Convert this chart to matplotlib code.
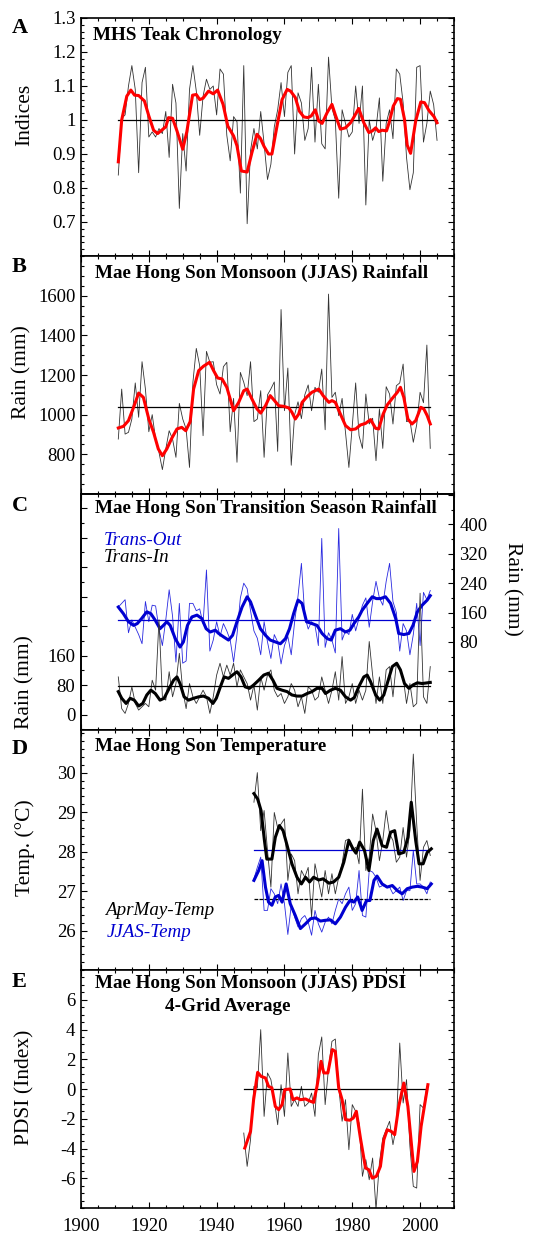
import matplotlib
matplotlib.use("Agg")
import matplotlib.pyplot as plt
import numpy as np
from matplotlib.ticker import MultipleLocator

plt.rcParams["font.family"] = ["Liberation Serif", "DejaVu Serif"]
plt.rcParams["axes.unicode_minus"] = False

# ---- A: MHS teak chronology (1911-2005) ----
a_years = np.arange(1911, 2006)
a_raw = [0.838, 1.005, 1.015, 1.10, 1.16, 1.09, 0.845, 1.11, 1.155, 0.95,
         0.965, 0.95, 0.975, 0.96, 1.025, 0.89, 1.105, 1.05, 0.74, 0.96,
         0.85, 1.09, 1.16, 1.085, 0.955, 1.07, 1.12, 1.09, 1.10, 1.015,
         1.15, 1.135, 0.955, 0.88, 1.01, 0.995, 0.785, 1.16, 0.695, 0.91,
         0.975, 0.915, 1.025, 0.93, 0.825, 0.87, 0.98, 1.03, 1.11, 1.01,
         1.14, 1.16, 0.90, 1.08, 1.05, 0.94, 0.975, 1.155, 0.935, 1.105,
         0.93, 0.915, 1.185, 1.035, 1.0, 0.77, 1.03, 0.99, 0.95, 0.965,
         1.10, 0.99, 1.10, 0.75, 1.0, 0.94, 0.975, 1.065, 0.82, 0.99,
         1.03, 0.945, 1.15, 1.135, 1.05, 0.89, 0.795, 0.845, 1.155, 1.16,
         0.935, 0.99, 1.085, 1.045, 0.94]
a_smooth_x = [1911, 1912, 1913.5, 1914.7, 1915.8, 1917, 1918.7, 1920, 1921.4, 1922.6,
              1923.8, 1925, 1925.8, 1927, 1928.3, 1930, 1931.2, 1932.9, 1934, 1935,
              1936, 1937.6, 1939, 1940.3, 1941.9, 1943.3, 1945, 1946, 1947.3, 1949,
              1950.4, 1951.9, 1952.9, 1954, 1955.3, 1956.3, 1957.8, 1959.3, 1960.8, 1961.8,
              1963.2, 1964.4, 1965.7, 1966.9, 1967.9, 1969.1, 1970.1, 1971.1, 1972.6, 1974,
              1975, 1976.5, 1978, 1979.5, 1980.4, 1981.9, 1983.4, 1984.9, 1985.9, 1986.9,
              1987.8, 1988.8, 1990.1, 1990.8, 1992.1, 1993.3, 1994.2, 1995.4, 1996.2, 1997.2,
              1998.7, 2000.2, 2001.3, 2002.6, 2004.1, 2005]
a_smooth_y = [0.877, 1.0, 1.07, 1.088, 1.073, 1.072, 1.056, 1.012, 0.97, 0.96,
              0.97, 0.98, 1.007, 1.005, 0.968, 0.914, 0.965, 1.073, 1.075, 1.06,
              1.064, 1.085, 1.077, 1.088, 1.046, 0.982, 0.953, 0.924, 0.85, 0.847,
              0.904, 0.958, 0.946, 0.922, 0.9, 0.9, 0.982, 1.06, 1.09, 1.085,
              1.066, 1.026, 1.009, 1.007, 1.012, 1.03, 0.997, 0.99, 1.022, 1.046,
              1.015, 0.973, 0.977, 0.992, 1.007, 1.034, 0.992, 0.963, 0.968, 0.977,
              0.966, 0.97, 0.968, 0.99, 1.041, 1.063, 1.061, 1.002, 0.926, 0.902,
              0.997, 1.053, 1.051, 1.028, 1.01, 0.992]
a_mean = 1.0

# ---- B: JJAS rainfall (1911-2003) ----
b_years = np.arange(1911, 2004)
b_raw = [877, 1129, 902, 911, 978, 1160, 987, 1267, 1129, 914,
         1000, 877, 810, 723, 827, 919, 877, 785, 1057, 978,
         928, 734, 1163, 1334, 1247, 894, 1319, 1264, 1267, 1151,
         1104, 1242, 1264, 914, 1082, 760, 1213, 1163, 1096, 1267,
         965, 978, 1121, 785, 1100, 1130, 1165, 815, 1530, 1020,
         1235, 745, 1000, 1065, 980, 1100, 1150, 1020, 1138, 1113,
         1230, 924, 1608, 1087, 1113, 995, 1082, 911, 734, 944,
         1160, 894, 830, 1104, 953, 982, 768, 1029, 830, 1141,
         1104, 953, 1146, 1160, 1255, 965, 970, 861, 950, 1113,
         1060, 1351, 830]
b_smooth_x = [1911, 1912.5, 1914, 1915.5, 1917, 1918.4, 1920, 1921.4, 1922.8, 1924,
              1925.3, 1926.8, 1928.3, 1929.7, 1930.9, 1932.2, 1933.2, 1934.7, 1936.1, 1937.9,
              1939.1, 1940.3, 1941.6, 1943, 1944, 1945, 1946.5, 1948, 1949, 1950.4,
              1951.9, 1953, 1954.4, 1955.8, 1957.3, 1958.3, 1959.8, 1961.3, 1962.2, 1963.2,
              1964.2, 1965.2, 1966.7, 1968.1, 1970.1, 1971.4, 1973.1, 1974, 1975, 1976.5,
              1978, 1979.5, 1981, 1982.4, 1983.9, 1985.4, 1986.9, 1987.8, 1989.1, 1990.3,
              1991.8, 1993.3, 1994.2, 1995.2, 1996.4, 1997.6, 1998.7, 2000.2, 2001.1, 2002.1,
              2003]
b_smooth_y = [933, 941, 970, 1037, 1109, 1087, 978, 911, 827, 793,
              827, 882, 928, 936, 919, 965, 1129, 1222, 1244, 1264,
              1222, 1185, 1180, 1138, 1079, 1020, 1062, 1121, 1129, 1079,
              1029, 1008, 1045, 1096, 1066, 1045, 1042, 1034, 1012, 978,
              1003, 1062, 1091, 1113, 1129, 1096, 1062, 1071, 1062, 1003,
              945, 924, 928, 948, 956, 975, 931, 928, 1003, 1049,
              1082, 1113, 1138, 1087, 978, 953, 970, 1037, 1029, 995,
              953]
b_mean = 1037

# ---- C: transition season rainfall (1911-2003) ----
c_years = np.arange(1911, 2004)
c_in_raw = [102, 16, 3, 30, 75, 30, 12, 21, 30, 21,
            93, 66, 257, 48, 39, 116, 48, 84, 166, 66,
            16, 84, 48, 30, 48, 66, 48, 3, 48, 107,
            139, 102, 134, 107, 139, 75, 121, 102, 84, 39,
            80, 12, 102, 66, 107, 121, 66, 48, 57, 30,
            48, 84, 66, 21, 48, 3, 75, 66, 39, 48,
            102, 66, 30, 66, 116, 39, 157, 30, 48, 84,
            30, 66, 39, 66, 198, 107, 30, 102, 30, 121,
            130, 48, 139, 121, 102, 30, 84, 21, 30, 329,
            48, 30, 130]
c_in_smooth_x = [1911, 1912, 1913.3, 1914.5, 1915.7, 1917, 1918.2, 1919.4, 1920.6, 1921.9,
                 1923.3, 1924.5, 1926, 1927.3, 1928.3, 1929.2, 1930.4, 1931.7, 1933.2, 1934.7,
                 1936.1, 1937.6, 1938.9, 1939.9, 1941.1, 1942.2, 1943.5, 1944.7, 1946, 1947.2,
                 1948.4, 1949.7, 1950.9, 1952.4, 1953.9, 1955.3, 1956.6, 1957.8, 1959.3, 1960.8,
                 1962.2, 1963.7, 1965.2, 1966.7, 1968.1, 1969.6, 1971.1, 1972.1, 1973.6, 1975,
                 1976.5, 1978, 1979.5, 1980.6, 1981.9, 1983.4, 1984.4, 1985.4, 1986.9, 1988.1,
                 1989.3, 1990.6, 1991.8, 1993.1, 1994.2, 1995.4, 1996.7, 1997.9, 1999.2, 2000.6,
                 2003]
c_in_smooth_y = [62, 44, 30, 44, 39, 23, 30, 53, 66, 57,
                 39, 44, 71, 93, 102, 84, 48, 39, 44, 48,
                 50, 44, 30, 44, 75, 102, 98, 107, 116, 102,
                 75, 71, 80, 93, 107, 112, 93, 71, 66, 62,
                 53, 50, 50, 57, 62, 71, 71, 57, 66, 71,
                 66, 48, 39, 46, 75, 102, 107, 89, 53, 39,
                 53, 93, 130, 139, 121, 84, 71, 80, 86, 84,
                 87]
c_in_mean = 77

c_out_raw = [175, 185, 195, 105, 140, 120, 100, 75, 190, 135,
             180, 178, 115, 70, 140, 222, 150, 25, 185, 22,
             28, 185, 185, 165, 170, 130, 276, 55, 85, 135,
             95, 130, 110, 85, 25, 100, 200, 240, 225, 165,
             110, 90, 45, 135, 80, 35, 100, 80, 20, 70,
             95, 45, 135, 205, 294, 150, 115, 135, 125, 70,
             362, 65, 105, 85, 50, 389, 85, 110, 100, 155,
             110, 145, 180, 200, 120, 190, 245, 200, 180, 245,
             294, 190, 160, 55, 130, 110, 45, 100, 185, 70,
             215, 195, 220]
c_out_smooth_x = [1911, 1912.5, 1914, 1915.5, 1916.6, 1917.9, 1919.4, 1920.6, 1921.9, 1923.3,
                  1924.3, 1925.3, 1926.3, 1927.8, 1929.2, 1930.2, 1931.4, 1932.7, 1934.2, 1935.6,
                  1936.9, 1938.1, 1939.6, 1940.6, 1942, 1943.5, 1944.7, 1946, 1947.5, 1949,
                  1950, 1951.4, 1952.9, 1954.4, 1955.8, 1957.3, 1958.8, 1960.3, 1961.5, 1962.7,
                  1964, 1965.2, 1966.5, 1968.1, 1969.6, 1971.1, 1972.6, 1973.8, 1975, 1976.5,
                  1978, 1979.3, 1980.5, 1981.9, 1982.9, 1984.4, 1985.9, 1987.1, 1988.3, 1989.8,
                  1991.3, 1992.8, 1993.7, 1995.2, 1996.7, 1997.9, 1999.2, 2000.6, 2002.1, 2003]
c_out_smooth_y = [175, 157, 135, 125, 130, 144, 162, 157, 139, 116,
                  125, 135, 125, 89, 66, 80, 125, 148, 153, 144,
                  116, 107, 112, 103, 94, 85, 98, 135, 175, 203,
                  189, 153, 116, 98, 85, 80, 75, 89, 116, 157,
                  194, 185, 135, 130, 125, 103, 89, 85, 112, 116,
                  107, 112, 130, 148, 166, 185, 203, 198, 198, 203,
                  185, 144, 103, 100, 103, 125, 162, 180, 194, 206]
c_out_mean = 139

# ---- D: temperature (1951-2003) ----
d_years = np.arange(1951, 2004)
d_am_raw = [29.25, 30.0, 28.53, 29.04, 28.03, 27.1, 28.99, 28.6, 28.7, 28.83,
            27.27, 27.94, 27.77, 26.93, 27.52, 27.35, 27.6, 26.34, 27.69, 27.27,
            26.85, 27.52, 26.93, 27.44, 26.93, 27.35, 27.69, 28.28, 28.32, 28.03,
            28.11, 27.69, 29.58, 27.52, 27.86, 28.95, 28.53, 27.77, 28.28, 29.04,
            28.45, 28.28, 27.73, 27.86, 28.61, 27.86, 28.53, 30.47, 28.7, 27.27,
            28.11, 28.28, 27.9]
d_am_smooth_x = [1951, 1952.1, 1953.1, 1954.1, 1954.8, 1956.3, 1957.3, 1958.5, 1959.6, 1960.8,
                 1962.2, 1963.7, 1965, 1966.2, 1967.4, 1968.6, 1970.1, 1971.4, 1973.1, 1974.5,
                 1976, 1977.5, 1979, 1980.2, 1981.1, 1982.2, 1983.6, 1984.9, 1986.2, 1987.3,
                 1988.8, 1990.1, 1991.3, 1992.5, 1993.7, 1995.2, 1996.4, 1997.4, 1998.7, 1999.7,
                 2000.9, 2002.1, 2003.3]
d_am_smooth_y = [29.47, 29.33, 29.04, 28.28, 27.81, 27.81, 28.36, 28.66, 28.53, 28.15,
                 27.69, 27.35, 27.18, 27.35, 27.23, 27.35, 27.28, 27.31, 27.2, 27.23,
                 27.35, 27.73, 28.28, 28.07, 27.96, 28.24, 28.03, 27.52, 28.28, 28.57,
                 28.15, 28.11, 28.49, 28.53, 27.94, 27.98, 28.36, 29.25, 28.28, 27.69,
                 27.69, 27.98, 28.07]
d_jjas_raw = [27.31, 27.6, 27.86, 26.51, 26.51, 27.06, 26.93, 26.68, 27.18, 26.68,
              25.9, 26.64, 26.34, 26.09, 26.3, 26.38, 26.21, 25.88, 26.51, 26.17,
              25.96, 26.21, 26.34, 26.17, 26.51, 26.8, 26.68, 26.93, 27.1, 26.51,
              26.68, 27.52, 26.38, 26.34, 27.52, 27.48, 27.35, 27.1, 27.14, 27.1,
              27.1, 26.93, 27.01, 27.1, 26.76, 27.01, 27.01, 28.03, 27.18, 27.18,
              27.1, 26.93, 27.23]
d_jjas_smooth_x = [1951, 1952.4, 1953.4, 1954.4, 1955.3, 1956.3, 1957.3, 1958.3, 1959.3, 1960.5,
                   1961.7, 1963.2, 1964.7, 1966.2, 1967.7, 1969.1, 1970.6, 1972.1, 1973.6, 1975,
                   1976.5, 1978, 1979.3, 1980.5, 1981.6, 1982.9, 1984.2, 1985.2, 1986.4, 1987.3,
                   1988.8, 1990.3, 1991.8, 1993.3, 1994.7, 1996.2, 1997.7, 1999.2, 2000.6, 2002.1,
                   2003.3]
d_jjas_smooth_y = [27.27, 27.52, 27.77, 27.1, 26.72, 26.64, 26.85, 26.89, 26.72, 27.18,
                   26.68, 26.38, 26.05, 26.17, 26.3, 26.32, 26.24, 26.26, 26.27, 26.17,
                   26.34, 26.59, 26.76, 26.72, 26.85, 26.51, 26.76, 26.76, 27.27, 27.38,
                   27.18, 27.1, 27.14, 27.01, 26.93, 27.06, 27.1, 27.12, 27.1, 27.06,
                   27.18]
d_blue_mean = 28.03
d_black_mean = 26.8

# ---- E: JJAS PDSI (1948-2002) ----
e_years = np.arange(1948, 2003)
e_raw = [-2.96, -5.2, -3.4, 0.18, 0.07, 3.99, -1.84, 1.08, 0.63, -0.72,
         -2.4, 0.29, -1.84, 2.42, -1.17, -0.72, -1.17, 0.18, -1.17, -0.94,
         -0.27, -1.84, 2.31, 3.5, -1.05, 1.41, 3.2, 3.36, 0.18, -2.17,
         -0.72, -4.08, -1.05, -1.5, -2.29, -5.87, -4.75, -6.1, -4.64, -8.1,
         -4.98, -3.3, -2.74, -2.17, -3.74, -2.51, 3.09, -0.94, 0.63, -3.86,
         -6.55, -6.66, -1.05, -1.28, 0.18]
e_smooth_x = [1948.3, 1950, 1950.9, 1952.1, 1953.1, 1954.4, 1955.3, 1956.3, 1957.3, 1958.3,
              1959.3, 1960.1, 1961.7, 1962.5, 1963.7, 1964.7, 1966.2, 1967.7, 1968.6, 1969.6,
              1970.8, 1971.6, 1972.8, 1974.1, 1975, 1976, 1977, 1978, 1979.3, 1980.3,
              1981.2, 1982.4, 1983.9, 1984.9, 1985.9, 1987.1, 1988.3, 1989.3, 1990.3, 1991.5,
              1992.5, 1993.7, 1995.2, 1996.4, 1998.2, 1999.2, 2000.3, 2002.3]
e_smooth_y = [-3.97, -2.85, -0.72, 1.12, 0.85, 0.74, 0.18, 0.07, -1.17, -1.39,
              -1.05, -0.04, 0.0, -0.72, -0.6, -0.72, -0.67, -0.83, -0.9, 0.18,
              1.86, 1.08, 1.08, 2.65, 2.53, 0.07, -0.72, -2.06, -2.1, -1.95,
              -1.5, -3.3, -5.31, -5.43, -5.99, -5.87, -5.2, -3.41, -2.74, -2.85,
              -3.07, -1.17, 0.4, -1.17, -5.54, -4.87, -2.51, 0.29]
e_mean = 0.0

W, H = 533, 1236
LEFT, RIGHT = 81, 454
RED = "#ff0000"
BLUE = "#0000d0"
fig = plt.figure(figsize=(W / 100, H / 100), dpi=100)


def fx(x):
    return x / W


def fy(y):
    return 1 - y / H


def make_axes(top, bottom, right_ticks=True):
    ax = fig.add_axes([fx(LEFT), fy(bottom), (RIGHT - LEFT) / W, (bottom - top) / H])
    ax.set_xlim(1900, 2010)
    ax.xaxis.set_major_locator(MultipleLocator(20))
    ax.xaxis.set_minor_locator(MultipleLocator(5))
    ax.tick_params(which="both", direction="in", top=True, right=right_ticks,
                   width=0.8, labelsize=13.5, pad=4)
    ax.tick_params(which="major", length=4.5)
    ax.tick_params(which="minor", length=2.2)
    ax.tick_params(axis="x", labelbottom=False)
    for s in ax.spines.values():
        s.set_linewidth(1.2)
    return ax


def label_text(x, y, s, **kw):
    fig.text(fx(x), fy(y), s, **kw)


def set_ticks(ax, ticks, labels, minor):
    ax.set_yticks(ticks)
    ax.set_yticklabels(labels)
    ax.yaxis.set_minor_locator(MultipleLocator(minor))


# panel A
ax = make_axes(18, 256)
ax.set_ylim(0.6, 1.3)
set_ticks(ax, [0.7, 0.8, 0.9, 1.0, 1.1, 1.2, 1.3],
          ["0.7", "0.8", "0.9", "1", "1.1", "1.2", "1.3"], 0.02)
ax.plot(a_years, a_raw, color="#333333", lw=0.6)
ax.plot([a_years[0], a_years[-1]], [a_mean, a_mean], color="black", lw=0.9)
ax.plot(a_smooth_x, a_smooth_y, color=RED, lw=2.2)
label_text(93, 27, "MHS Teak Chronology", fontsize=13.8, fontweight="bold", va="top")
label_text(12, 18, "A", fontsize=16, fontweight="bold", va="top")
label_text(25, 115, "Indices", fontsize=15.5, rotation=90, ha="center", va="center")

# panel B
ax = make_axes(256, 494)
ax.set_ylim(600, 1800)
set_ticks(ax, [800, 1000, 1200, 1400, 1600],
          ["800", "1000", "1200", "1400", "1600"], 50)
ax.plot(b_years, b_raw, color="#333333", lw=0.6)
ax.plot([b_years[0], b_years[-1]], [b_mean, b_mean], color="black", lw=0.9)
ax.plot(b_smooth_x, b_smooth_y, color=RED, lw=2.2)
label_text(95, 265, "Mae Hong Son Monsoon (JJAS) Rainfall", fontsize=13.8,
           fontweight="bold", va="top")
label_text(12, 257, "B", fontsize=16, fontweight="bold", va="top")
label_text(22, 372, "Rain (mm)", fontsize=15.5, rotation=90, ha="center", va="center")

# panel C
ax = make_axes(494, 730, right_ticks=False)
ax.set_ylim(-42, 598)
ax.set_yticks(np.arange(0, 561, 80))
ax.set_yticklabels(["0", "80", "160", "", "", "", "", ""])
ax.yaxis.set_minor_locator(MultipleLocator(40))
ax2 = ax.twinx()
ax2.set_ylim(-157, 483)
ax2.set_yticks(np.arange(-160, 481, 80))
ax2.set_yticklabels(["", "", "", "80", "160", "240", "320", "400", ""])
ax2.yaxis.set_minor_locator(MultipleLocator(40))
ax2.tick_params(which="both", direction="in", width=0.8, labelsize=13.5, pad=4)
ax2.tick_params(which="major", length=4.5)
ax2.tick_params(which="minor", length=2.2)
for s in ax2.spines.values():
    s.set_linewidth(1.2)
ax2.plot(c_years, c_out_raw, color="#2a2ae0", lw=0.6)
ax2.plot([c_years[0], c_years[-1]], [c_out_mean, c_out_mean], color=BLUE, lw=0.9)
ax2.plot(c_out_smooth_x, c_out_smooth_y, color=BLUE, lw=2.2)
ax2.plot(c_years, c_in_raw, color="#333333", lw=0.6,
         transform=ax.transData)
ax2.plot([c_years[0], c_years[-1]], [c_in_mean, c_in_mean], color="black", lw=0.9,
         transform=ax.transData)
ax2.plot(c_in_smooth_x, c_in_smooth_y, color="black", lw=2.2, transform=ax.transData)
label_text(95, 500, "Mae Hong Son Transition Season Rainfall", fontsize=13.8,
           fontweight="bold", va="top")
label_text(12, 496, "C", fontsize=16, fontweight="bold", va="top")
label_text(25, 682, "Rain (mm)", fontsize=15.5, rotation=90, ha="center", va="center")
label_text(512, 589, "Rain (mm)", fontsize=15.5, rotation=270, ha="center", va="center")
label_text(104, 532, "Trans-Out", fontsize=13.7, style="italic", color=BLUE, va="top")
label_text(104, 549, "Trans-In", fontsize=13.7, style="italic", color="black", va="top")

# panel D
ax = make_axes(730, 970)
ax.set_ylim(25.0, 31.08)
set_ticks(ax, [26, 27, 28, 29, 30], ["26", "27", "28", "29", "30"], 0.2)
ax.plot(d_years, d_am_raw, color="#333333", lw=0.6)
ax.plot(d_years, d_jjas_raw, color="#2a2ae0", lw=0.6)
ax.plot([d_years[0], d_years[-1]], [d_blue_mean, d_blue_mean], color=BLUE, lw=0.9)
ax.plot([d_years[0], d_years[-1]], [d_black_mean, d_black_mean], color="black",
        lw=0.9, dashes=(3, 1))
ax.plot(d_am_smooth_x, d_am_smooth_y, color="black", lw=2.2)
ax.plot(d_jjas_smooth_x, d_jjas_smooth_y, color=BLUE, lw=2.2)
label_text(95, 738, "Mae Hong Son Temperature", fontsize=13.8, fontweight="bold", va="top")
label_text(12, 739, "D", fontsize=16, fontweight="bold", va="top")
label_text(25, 848, "Temp. (\u00b0C)", fontsize=15.5, rotation=90, ha="center", va="center")
label_text(105, 902, "AprMay-Temp", fontsize=13.7, style="italic", color="black", va="top")
label_text(107, 924, "JJAS-Temp", fontsize=13.7, style="italic", color=BLUE, va="top")

# panel E
ax = make_axes(970, 1208)
ax.set_ylim(-8, 8)
set_ticks(ax, [-6, -4, -2, 0, 2, 4, 6], ["-6", "-4", "-2", "0", "2", "4", "6"], 0.5)
ax.plot(e_years, e_raw, color="#333333", lw=0.6)
ax.plot([e_years[0], e_years[-1]], [e_mean, e_mean], color="black", lw=0.9)
ax.plot(e_smooth_x, e_smooth_y, color=RED, lw=2.2)
ax.tick_params(axis="x", labelbottom=True, labelsize=13.5, pad=7)
label_text(95, 975, "Mae Hong Son Monsoon (JJAS) PDSI", fontsize=13.8,
           fontweight="bold", va="top")
label_text(165, 998, "4-Grid Average", fontsize=13.8, fontweight="bold", va="top")
label_text(12, 972, "E", fontsize=16, fontweight="bold", va="top")
label_text(25, 1087, "PDSI (Index)", fontsize=15.5, rotation=90, ha="center", va="center")

fig.savefig("out.png", dpi=100)
